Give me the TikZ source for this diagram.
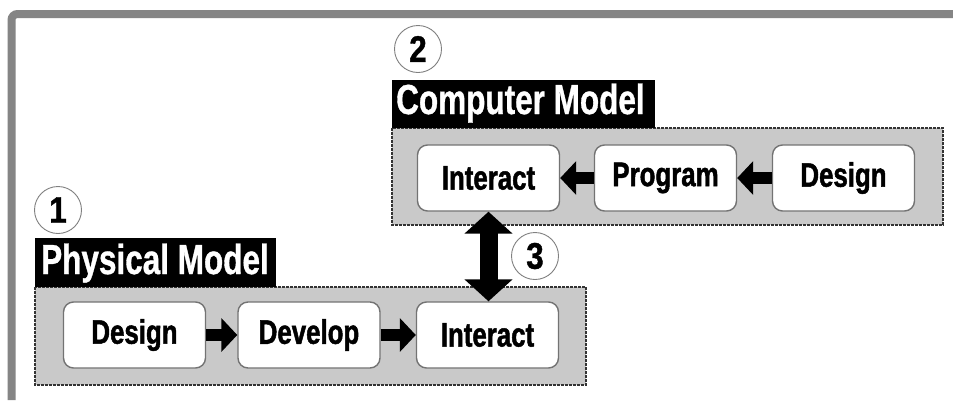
\documentclass[tikz,border=0pt]{standalone}
\usepackage{fontspec}
\usetikzlibrary{arrows.meta}
\newfontfamily\boxfont[FakeStretch=0.76,FakeBold=1.4]{Liberation Sans}
\newfontfamily\labfont[FakeStretch=0.75,FakeBold=0.8]{Liberation Sans}
\newfontfamily\numfont[FakeStretch=0.85,FakeBold=1]{Liberation Sans}
\tikzset{
  frameline/.style={line width=8pt, draw=black!48},
  groupbox/.style={draw=black!80, fill=black!21, line width=1.6pt, dash pattern=on 2.6pt off 1.4pt},
  stagebox/.style={rectangle, rounded corners=10pt, draw=black!55, line width=1.4pt, fill=white,
    minimum width=142pt, minimum height=66pt, inner sep=0pt,
    font=\boxfont\bfseries\fontsize{34}{34}\selectfont},
  labelbar/.style={rectangle, fill=black, inner sep=0pt, anchor=north west},
  labeltext/.style={anchor=base west, inner sep=0pt, text=white, font=\labfont\bfseries\fontsize{42}{42}\selectfont},
  numcircle/.style={circle, draw=black!50, line width=0.9pt, fill=white, minimum size=47pt, inner sep=0pt,
    font=\numfont\bfseries\fontsize{37}{37}\selectfont},
  flowarrow/.style={line width=12pt, -{Triangle[width=33pt,length=16pt]}},
  linkarrow/.style={line width=18pt, {Triangle[width=47pt,length=22pt]}-{Triangle[width=47pt,length=22pt]}}
}
\begin{document}
\begin{tikzpicture}[x=1pt,y=-1pt]
\useasboundingbox (0,0) rectangle (953,400);
\fill[white] (0,0) rectangle (953,400);
% frame
\draw[frameline, rounded corners=6pt] (11.5,400) -- (11.5,14) -- (953,14);

% group boxes
\draw[groupbox] (392,128) rectangle (943,225);
\draw[groupbox] (35,287) rectangle (586,385);

% labels
\node[labelbar, minimum width=263pt, minimum height=48pt] (clab) at (392,80) {};
\node[labeltext] (cltext) at (396,114) {Computer Model};
\node[labelbar, minimum width=241pt, minimum height=49pt] (plab) at (35,238) {};
\node[labeltext] (pltext) at (41,274) {Physical Model};

% number circles
\node[numcircle] (n2) at (418,49) {2};
\node[numcircle] (n1) at (58,210) {1};
\node[numcircle] (n3) at (535,256) {3};

% computer model stages
\node[stagebox] (cint) at (488.5,178) {Interact};
\node[stagebox] (cprog) at (665.5,178) {Program};
\node[stagebox] (cdes) at (843.5,178) {Design};

% physical model stages
\node[stagebox] (pdes) at (134.5,335) {Design};
\node[stagebox] (pdev) at (309,335) {Develop};
\node[stagebox] (pint) at (487.5,335) {Interact};

% arrows
\draw[flowarrow] (cdes.west) -- (cprog.east);
\draw[flowarrow] (cprog.west) -- (cint.east);
\draw[flowarrow] (pdes.east) -- (pdev.west);
\draw[flowarrow] (pdev.east) -- (pint.west);
\draw[linkarrow] (cint.south) -- (cint.south |- pint.north);
\end{tikzpicture}
\end{document}
